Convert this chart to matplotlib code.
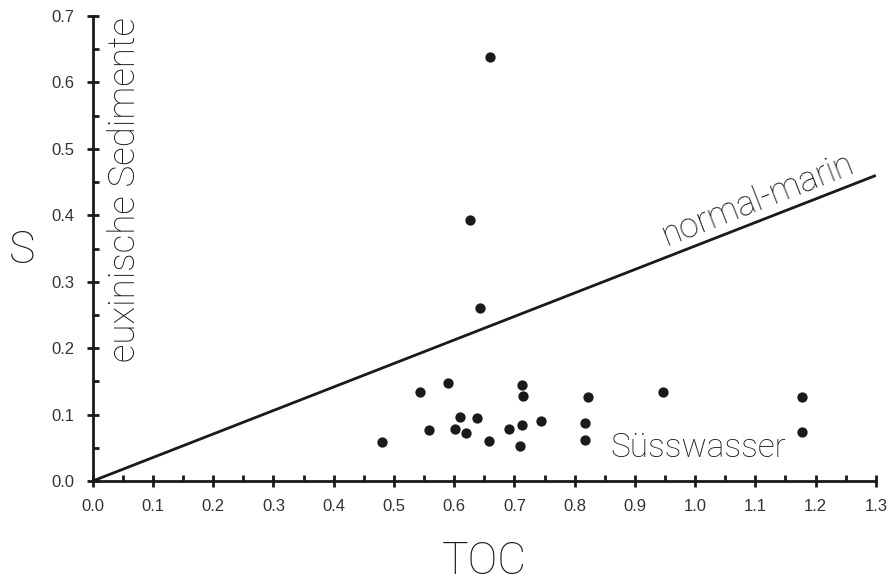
import matplotlib.pyplot as plt
from matplotlib.ticker import MultipleLocator, FormatStrFormatter

# TOC and S values
toc = [0.480, 0.544, 0.558, 0.589, 0.602, 0.610, 0.620, 0.638, 0.658, 0.691,
       0.709, 0.712, 0.712, 0.714, 0.745, 0.818, 0.818, 0.823, 0.946, 1.178,
       1.178, 0.627, 0.643, 0.660]
s = [0.059, 0.134, 0.077, 0.148, 0.079, 0.097, 0.073, 0.095, 0.061, 0.079,
     0.053, 0.144, 0.085, 0.128, 0.090, 0.087, 0.062, 0.126, 0.134, 0.126,
     0.074, 0.393, 0.261, 0.639]

# normal marine line
line_x = [0.0, 1.3]
line_y = [0.0, 0.46]

fig = plt.figure(figsize=(8.91, 5.82), dpi=100)
ax = fig.add_axes([0.104, 0.1735, 0.879, 0.799])

ax.plot(line_x, line_y, color="#1a1a1a", lw=2, solid_capstyle="butt")
ax.scatter(toc, s, s=55, color="#1a1a1a", zorder=3, linewidths=0)

ax.set_xlim(0, 1.3)
ax.set_ylim(0, 0.7)
ax.spines["top"].set_visible(False)
ax.spines["right"].set_visible(False)
for sp in ["left", "bottom"]:
    ax.spines[sp].set_linewidth(2)
    ax.spines[sp].set_color("#1a1a1a")

ax.xaxis.set_major_locator(MultipleLocator(0.1))
ax.xaxis.set_minor_locator(MultipleLocator(0.05))
ax.yaxis.set_major_locator(MultipleLocator(0.1))
ax.yaxis.set_minor_locator(MultipleLocator(0.05))
ax.xaxis.set_major_formatter(FormatStrFormatter("%.1f"))
ax.yaxis.set_major_formatter(FormatStrFormatter("%.1f"))

ax.tick_params(which="major", direction="inout", length=8, width=2, color="#1a1a1a",
               labelsize=12, pad=9)
ax.tick_params(which="minor", direction="in", length=4, width=2, color="#1a1a1a")
for lab in ax.get_xticklabels() + ax.get_yticklabels():
    lab.set_family("Liberation Sans")
    lab.set_color("#333333")

tfont = dict(family="Roboto", fontweight="light", color="#1a1a1a")
fig.text(484 / 891, 1 - 562 / 582, "TOC", fontsize=32, ha="center", va="center", **tfont)
fig.text(22 / 891, 1 - 251 / 582, "S", fontsize=32, ha="center", va="center", **tfont)

ax.text(0.054, 0.438, "euxinische Sedimente", rotation=90, fontsize=26.5,
        ha="center", va="center", **tfont)
ax.text(1.103, 0.423, "normal-marin", rotation=21.4, rotation_mode="anchor",
        fontsize=25, ha="center", va="center", **tfont)
ax.text(1.005, 0.050, "Süsswasser", fontsize=24, ha="center", va="center", **tfont)

fig.savefig("out.png", dpi=100)
